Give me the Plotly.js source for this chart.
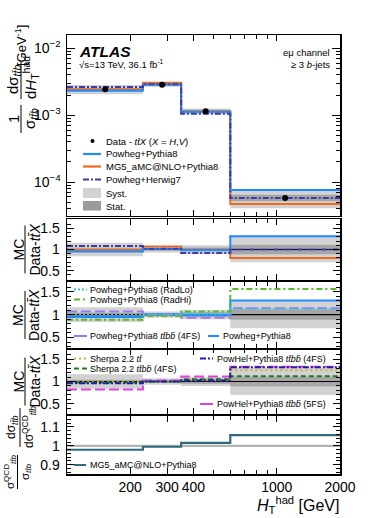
<!DOCTYPE html>
<html><head><meta charset="utf-8">
<script src="https://cdn.plot.ly/plotly-3.0.1.min.js"></script>
<style>body{margin:0;padding:0;background:#fff}#plot{width:374px;height:518px}</style>
</head><body><div id="plot"></div>
<script>
// ---------------- data ----------------
const edges = [100, 230, 350, 600, 2000];
const dataX = [152, 284, 458, 1095];
const dataY = [2.45e-3, 2.85e-3, 1.15e-3, 5.8e-5];
const totRel = [0.16, 0.07, 0.10, 0.30];
const statRel = [0.04, 0.03, 0.05, 0.11];

const mainPowPy8 = [2.33e-3, 2.88e-3, 1.13e-3, 7.6e-5];
const mainMG5 = [2.43e-3, 3.05e-3, 1.15e-3, 4.7e-5];
const mainPowHw7 = [2.65e-3, 2.90e-3, 1.05e-3, 5.8e-5];

const rPowPy8 = [0.95, 1.01, 0.99, 1.31];
const rMG5 = [0.99, 1.07, 1.00, 0.80];
const rPowHw7 = [1.08, 1.02, 0.92, 1.00];

const rRadLo = [1.00, 1.00, 1.02, 1.13];
const rRadHi = [0.89, 0.97, 1.07, 1.56];
const rTtbb4FS = [1.07, 1.00, 0.93, 1.14];

const rSherpaTt = [0.99, 1.00, 1.03, 1.25];
const rSherpaTtbb = [0.98, 1.00, 1.05, 1.12];
const rPowHel4FS = [0.96, 1.00, 1.02, 1.32];
const rPowHel5FS = [0.82, 1.02, 1.11, 1.33];

const rQCD = [0.979, 0.995, 1.016, 1.057];

const xTickVals = [200, 300, 400, 1000, 2000];
const xTickText = ['200', '300', '400', '1000', '2000'];
const xMinorVals = [500, 600, 700, 800, 900];

// ---------------- styles ----------------
const C = {
  blue: '#1f8bff', orange: '#ee6a1c', hw7: '#3c3ca6', radlo: '#35c4d4', radhi: '#52bd24',
  purple: '#a277f2', sherpaTt: '#dcae2c', sherpaTtbb: '#1f7a1f', powhel4: '#1a22a8',
  powhel5: '#e042e0', qcd: '#2d6b7d', syst: '#d2d2d2', stat: '#a6a6a6'
};
const D = {
  hw7: '6px,2px,2px,2px', radlo: '2px,2px', radhi: '6px,3px,2px,3px', purple: '10px,4px',
  sherpaTt: '2px,3px', sherpaTtbb: '5px,3px', powhel4: '6px,2px,2px,2px', powhel5: '10px,4px'
};
const FONT = 'Liberation Sans, Arial, Helvetica, sans-serif';

function stepY(v) { return v.concat([v[v.length - 1]]); }
function stepLine(vals, xa, ya, color, dash, width) {
  return {x: edges, y: stepY(vals), xaxis: xa, yaxis: ya, mode: 'lines', hoverinfo: 'skip',
    line: {shape: 'hv', color: color, dash: dash || 'solid', width: width || 2}};
}
function band(lo, hi, xa, ya, color) {
  return [
    {x: edges, y: stepY(lo), xaxis: xa, yaxis: ya, mode: 'lines', line: {shape: 'hv', width: 0}, hoverinfo: 'skip'},
    {x: edges, y: stepY(hi), xaxis: xa, yaxis: ya, mode: 'lines', line: {shape: 'hv', width: 0},
      fill: 'tonexty', fillcolor: color, hoverinfo: 'skip'}
  ];
}
function ratioBands(xa, ya) {
  return [].concat(
    band(totRel.map(u => 1 - u), totRel.map(u => 1 + u), xa, ya, C.syst),
    band(statRel.map(u => 1 - u), statRel.map(u => 1 + u), xa, ya, C.stat),
    [stepLine([1, 1, 1, 1], xa, ya, '#000000', 'solid', 1.2)]
  );
}

const traces = [].concat(
  band(dataY.map((v, i) => v * (1 - totRel[i])), dataY.map((v, i) => v * (1 + totRel[i])), 'x', 'y', C.syst),
  band(dataY.map((v, i) => v * (1 - statRel[i])), dataY.map((v, i) => v * (1 + statRel[i])), 'x', 'y', C.stat),
  [stepLine(mainMG5, 'x', 'y', C.orange),
   stepLine(mainPowPy8, 'x', 'y', C.blue),
   stepLine(mainPowHw7, 'x', 'y', C.hw7, D.hw7),
   {x: dataX, y: dataY, xaxis: 'x', yaxis: 'y', mode: 'markers', marker: {color: '#000', size: 6}, hoverinfo: 'skip'}],
  ratioBands('x2', 'y2'),
  [stepLine(rMG5, 'x2', 'y2', C.orange),
   stepLine(rPowPy8, 'x2', 'y2', C.blue),
   stepLine(rPowHw7, 'x2', 'y2', C.hw7, D.hw7)],
  ratioBands('x3', 'y3'),
  [stepLine(rPowPy8, 'x3', 'y3', C.blue),
   stepLine(rTtbb4FS, 'x3', 'y3', C.purple, D.purple),
   stepLine(rRadHi, 'x3', 'y3', C.radhi, D.radhi),
   stepLine(rRadLo, 'x3', 'y3', C.radlo, D.radlo)],
  ratioBands('x4', 'y4'),
  [stepLine(rPowHel5FS, 'x4', 'y4', C.powhel5, D.powhel5),
   stepLine(rSherpaTt, 'x4', 'y4', C.sherpaTt, D.sherpaTt),
   stepLine(rSherpaTtbb, 'x4', 'y4', C.sherpaTtbb, D.sherpaTtbb),
   stepLine(rPowHel4FS, 'x4', 'y4', C.powhel4, D.powhel4)],
  [stepLine([1, 1, 1, 1], 'x5', 'y5', '#b4b4b4', 'solid', 2.2),
   stepLine(rQCD, 'x5', 'y5', C.qcd, 'solid', 2.2)]
);

// ---------------- layout helpers ----------------
const L = 67, R = 340, T = 35, B = 474;
const W = R - L, H = B - T;
const px = x => (x - L) / W;
const py = y => (B - y) / H;

function xAxis(anchor, labels) {
  return {type: 'log', range: [2, Math.log10(2000)], anchor: anchor, showline: true, linecolor: '#000', linewidth: 1.5,
    mirror: 'allticks', ticks: 'inside', ticklen: 6, tickwidth: 1, tickcolor: '#000',
    tickvals: xTickVals, ticktext: xTickText, showticklabels: labels, showgrid: false, zeroline: false,
    minor: {tickvals: xMinorVals, ticks: 'inside', ticklen: 4, tickcolor: '#000', showgrid: false},
    tickfont: {family: FONT, size: 14, color: '#000'}, matches: anchor === 'y' ? undefined : 'x'};
}
function ratioY(anchor, dom, range, vals, text, mdt) {
  return {domain: dom, anchor: anchor, range: range, showline: true, linecolor: '#000', linewidth: 1.5,
    mirror: 'allticks', ticks: 'inside', ticklen: 7, tickcolor: '#000', tickvals: vals, ticktext: text,
    showgrid: false, zeroline: false, ticklabelstandoff: 3,
    minor: {dtick: mdt, ticks: 'inside', ticklen: 4, tickcolor: '#000', showgrid: false},
    tickfont: {family: FONT, size: 14, color: '#000'}};
}
const mainMinor = [];
[1e-5, 1e-4, 1e-3].forEach(d => { for (let k = 2; k <= 9; k++) mainMinor.push(k * d); });

const layout = {
  width: 374, height: 518, margin: {l: L, r: 374 - R, t: T, b: 518 - B, pad: 0},
  paper_bgcolor: '#fff', plot_bgcolor: 'rgba(0,0,0,0)', showlegend: false,
  font: {family: FONT, color: '#000'},
  xaxis: xAxis('y', false), xaxis2: xAxis('y2', false), xaxis3: xAxis('y3', false),
  xaxis4: xAxis('y4', false), xaxis5: xAxis('y5', true),
  yaxis: {type: 'log', domain: [py(215.5), 1], anchor: 'x', range: [-4.5, -1.8], showline: true, linecolor: '#000',
    linewidth: 1.5, mirror: 'allticks', ticks: 'inside', ticklen: 8, tickcolor: '#000',
    tickvals: [1e-4, 1e-3, 1e-2], ticktext: ['10<sup>\u22124</sup>', '10<sup>\u22123</sup>', '10<sup>\u22122</sup>'],
    minor: {tickvals: mainMinor, ticks: 'inside', ticklen: 4, tickcolor: '#000', showgrid: false},
    showgrid: false, zeroline: false, ticklabelstandoff: 2, tickfont: {family: FONT, size: 14, color: '#000'}},
  yaxis2: ratioY('x2', [py(280), py(219)], [0.28, 1.72], [0.5, 1, 1.5], ['0.5', '1', '1.5'], 0.1),
  yaxis3: ratioY('x3', [py(348), py(281.7)], [0.27, 1.72], [0.5, 1, 1.5], ['0.5', '1', '1.5'], 0.1),
  yaxis4: ratioY('x4', [py(413.7), py(349.3)], [0.28, 1.72], [0.5, 1, 1.5], ['0.5', '1', '1.5'], 0.1),
  yaxis5: ratioY('x5', [0, py(415.7)], [0.85, 1.16], [0.9, 1, 1.1], ['0.9', '1', '1.1'], 0.02),
  annotations: [], shapes: []
};

function txt(x, y, text, size, opts) {
  layout.annotations.push(Object.assign({xref: 'paper', yref: 'paper', x: px(x), y: py(y), text: text,
    showarrow: false, xanchor: 'left', yanchor: 'middle', borderpad: 0,
    font: {family: FONT, size: size, color: '#000'}}, opts || {}));
}
function seg(x0, y0, x1, y1, color, width, dash) {
  layout.shapes.push({type: 'line', xref: 'paper', yref: 'paper', x0: px(x0), y0: py(y0), x1: px(x1), y1: py(y1),
    line: {color: color, width: width, dash: dash || 'solid'}});
}
function box(x0, y0, x1, y1, color) {
  layout.shapes.push({type: 'rect', xref: 'paper', yref: 'paper', x0: px(x0), y0: py(y0), x1: px(x1), y1: py(y1),
    fillcolor: color, line: {width: 0}});
}
const ttbb = '<i>tt\u0304bb\u0304</i>';

// labels
txt(78, 51.5, '<b><i>ATLAS</i></b>', 15.5);
txt(78, 64, '\u221As=13 TeV, 36.1 fb<sup>-1</sup>', 9.5);
txt(331, 52.5, 'e\u03BC channel', 9.5, {xanchor: 'right'});
txt(331, 64, '\u2265 3 <i>b</i>-jets', 9.5, {xanchor: 'right'});

// main legend
layout.shapes.push({type: 'circle', xref: 'paper', yref: 'paper', x0: px(90.5), x1: px(94.5), y0: py(139), y1: py(143),
  fillcolor: '#000', line: {width: 0}});
txt(105, 141, 'Data - <i>tt\u0304X</i> (<i>X</i> = <i>H</i>,<i>V</i>)', 9.5);
seg(83, 154, 101, 154, C.blue, 2.2); txt(105, 154, 'Powheg+Pythia8', 9.5);
seg(83, 166.5, 101, 166.5, C.orange, 2.2); txt(105, 166.5, 'MG5_aMC@NLO+Pythia8', 9.5);
seg(83, 179.5, 101, 179.5, C.hw7, 2, D.hw7); txt(105, 179.5, 'Powheg+Herwig7', 9.5);
box(83, 188, 101, 198, C.syst); txt(105, 193, 'Syst.', 9.5);
box(83, 201, 101, 210.5, '#9a9a9a'); txt(105, 206, 'Stat.', 9.5);

// panel 3 legend
seg(74, 289.5, 87, 289.5, C.radlo, 2, D.radlo); txt(89, 289.5, 'Powheg+Pythia8 (RadLo)', 9);
seg(74, 299.5, 87, 299.5, C.radhi, 2, D.radhi); txt(89, 299.5, 'Powheg+Pythia8 (RadHi)', 9);
seg(74, 336, 87, 336, C.purple, 2); txt(89, 336, 'Powheg+Pythia8 ' + ttbb + ' (4FS)', 9);
seg(208, 336, 219, 336, C.blue, 2); txt(222, 336, 'Powheg+Pythia8', 9);
// panel 4 legend
seg(74, 358.5, 87, 358.5, C.sherpaTt, 2, D.sherpaTt); txt(89, 358.5, 'Sherpa 2.2 <i>tt\u0304</i>', 9);
seg(74, 368.5, 87, 368.5, C.sherpaTtbb, 2, D.sherpaTtbb); txt(89, 368.5, 'Sherpa 2.2 ' + ttbb + ' (4FS)', 9);
seg(200, 358.5, 213, 358.5, C.powhel4, 2, D.powhel4); txt(216, 358.5, 'PowHel+Pythia8 ' + ttbb + ' (4FS)', 9);
seg(200, 404, 213, 404, C.powhel5, 2); txt(216, 404, 'PowHel+Pythia8 ' + ttbb + ' (5FS)', 9);
// panel 5 legend
seg(74, 465, 86, 465, C.qcd, 2); txt(89, 465, 'MG5_aMC@NLO+Pythia8', 9);

// x title
txt(340, 505, '<i>H</i><sub>T</sub><sup>had</sup> [GeV]', 16, {xanchor: 'right'});

// y titles (rotated)
const rot = {textangle: -90, xanchor: 'center', yanchor: 'middle'};
function ratioTitle(yc) {
  txt(18, yc, 'MC', 14, rot);
  seg(25, yc - 24, 25, yc + 24, '#000', 1);
  txt(34, yc, 'Data-<i>tt\u0304X</i>', 14, rot);
}
ratioTitle(249.5); ratioTitle(315); ratioTitle(381.5);
// main y title
txt(13, 119, '1', 15, rot);
seg(21, 105, 21, 133, '#000', 1);
txt(30, 119, '\u03C3<sub><i>tt\u0304b</i></sub>', 15, rot);
txt(13, 80, 'd\u03C3<sub><i>tt\u0304b</i></sub>', 15, rot);
seg(21, 62, 21, 99, '#000', 1);
txt(30, 78, 'd<i>H</i><sub>T</sub><sup>had</sup>', 15, rot);
txt(21, 46, '[GeV<sup>-1</sup>]', 13, rot);
// panel 5 y title
txt(10, 472, '\u03C3<sup>QCD</sup><sub><i>tt\u0304b</i></sub>', 11.5, rot);
seg(17.5, 455, 17.5, 489, '#000', 1);
txt(26, 472, '\u03C3<sub><i>tt\u0304b</i></sub>', 11.5, rot);
txt(12, 427, 'd\u03C3<sub><i>tt\u0304b</i></sub>', 12, rot);
seg(20, 408, 20, 447, '#000', 1);
txt(29, 427, 'd\u03C3<sup>QCD</sup><sub><i>tt\u0304b</i></sub>', 12, rot);

Plotly.newPlot('plot', traces, layout, {staticPlot: true, displayModeBar: false});
</script></body></html>
